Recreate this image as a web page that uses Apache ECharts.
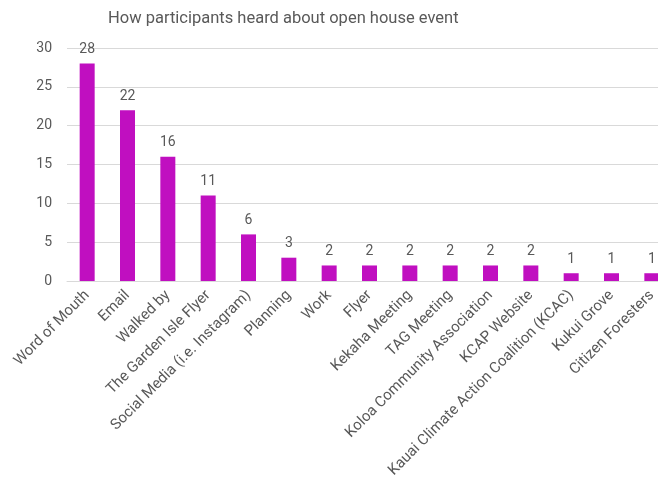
<!DOCTYPE html>
<html>
<head>
<meta charset="utf-8">
<script src="https://cdn.jsdelivr.net/npm/echarts@6/dist/echarts.min.js"></script>
<style>
  html, body { margin: 0; padding: 0; background: #fff; }
  #main { width: 658px; height: 482px; }
</style>
</head>
<body>
<div id="main"></div>
<script>
var sources = ['Word of Mouth', 'Email', 'Walked by', 'The Garden Isle Flyer',
  'Social Media (i.e. Instagram)', 'Planning', 'Work', 'Flyer', 'Kekaha Meeting',
  'TAG Meeting', 'Koloa Community Association', 'KCAP Website',
  'Kauai Climate Action Coalition (KCAC)', 'Kukui Grove', 'Citizen Foresters'];
var counts = [28, 22, 16, 11, 6, 3, 2, 2, 2, 2, 2, 2, 1, 1, 1];
var yTicks = [0, 5, 10, 15, 20, 25, 30];

var chartDom = document.getElementById('main');
var myChart = echarts.init(chartDom);
var font = 'Roboto';
var grey = '#595959';

var option = {
  animation: false,
  title: {
    text: 'How participants heard about open house event',
    left: 103,
    top: 5,
    textStyle: {
      fontFamily: font,
      fontSize: 16.5,
      fontWeight: 'normal',
      color: grey
    }
  },
  grid: {
    left: 67,
    top: 48,
    width: 605,
    height: 233,
    outerBoundsMode: 'none'
  },
  xAxis: {
    type: 'category',
    data: sources,
    axisTick: { show: false },
    axisLine: { lineStyle: { color: '#d9d9d9', width: 1 } },
    axisLabel: {
      rotate: 45,
      interval: 0,
      margin: 12,
      color: grey,
      fontFamily: font,
      fontSize: 15
    }
  },
  yAxis: {
    type: 'value',
    min: yTicks[0],
    max: yTicks[yTicks.length - 1],
    interval: 5,
    axisLine: { show: false },
    axisTick: { show: false },
    splitLine: { lineStyle: { color: '#d9d9d9', width: 1 } },
    axisLabel: {
      color: grey,
      fontFamily: font,
      fontSize: 14,
      margin: 15
    }
  },
  series: [
    {
      type: 'bar',
      data: counts,
      barWidth: 15,
      itemStyle: { color: '#c00fc0' },
      label: {
        show: true,
        position: 'top',
        distance: 7,
        color: grey,
        fontFamily: font,
        fontSize: 14
      }
    }
  ]
};
option && myChart.setOption(option);
</script>
</body>
</html>
